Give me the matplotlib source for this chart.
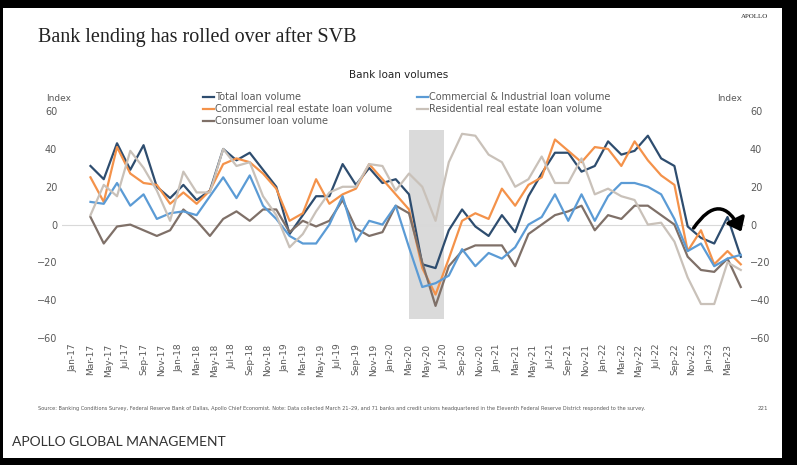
import matplotlib.pyplot as plt
from matplotlib.patches import Rectangle, FancyArrowPatch

# Survey dates: every 1.5 months starting Mar-17 (months since Jan-17)
n_points = 50
months = [2 + 1.5 * i for i in range(n_points)]

total = [31, 24, 43, 29, 42, 20, 14, 21, 13, 18, 40, 34, 38, 29, 20, -5, 5, 15, 15, 32,
         21, 30, 22, 24, 16, -21, -23, -3, 8, -1, -6, 5, -4, 15, 27, 38, 38, 28, 31, 44,
         37, 39, 47, 35, 31, -1, -7, -10, 4, -17]
cre = [25, 12, 41, 27, 22, 21, 11, 17, 11, 18, 32, 35, 33, 27, 19, 2, 6, 24, 11, 16,
       19, 32, 24, 16, 8, -23, -37, -18, 2, 6, 3, 19, 10, 21, 25, 45, 39, 33, 41, 40,
       31, 44, 34, 26, 21, -14, -3, -21, -14, -21]
ci = [12, 11, 22, 10, 16, 3, 6, 7, 5, 15, 25, 14, 26, 10, 3, -6, -10, -10, 0, 15,
      -9, 2, 0, 10, -12, -33, -31, -27, -13, -22, -15, -18, -12, 0, 4, 16, 2, 16, 2, 15,
      22, 22, 20, 16, 3, -14, -10, -22, -18, -16]
residential = [5, 21, 15, 39, 30, 18, 2, 28, 17, 17, 40, 31, 33, 15, 5, -12, -5, 7, 17, 20,
               20, 32, 31, 18, 27, 20, 2, 33, 48, 47, 37, 33, 20, 24, 36, 22, 22, 35, 16, 19,
               15, 13, 0, 1, -9, -28, -42, -42, -20, -24]
consumer = [4, -10, -1, 0, -3, -6, -3, 8, 2, -6, 3, 7, 2, 8, 8, -4, 2, -1, 2, 13,
            -2, -6, -4, 10, 6, -20, -43, -22, -14, -11, -11, -11, -22, -5, 0, 5, 7, 10, -3, 5,
            3, 10, 10, 5, 0, -17, -24, -25, -18, -33]

tick_months = list(range(0, 75, 2))
names = ["Jan", "Feb", "Mar", "Apr", "May", "Jun", "Jul", "Aug", "Sep", "Oct", "Nov", "Dec"]
tick_labels = [f"{names[m % 12]}-{17 + m // 12}" for m in tick_months]

grey = "#595959"
fig = plt.figure(figsize=(7.97, 4.65), dpi=100, facecolor="black")
fig.patches.append(Rectangle((3 / 797, 1 - 458 / 465), 779 / 797, 450 / 465,
                             transform=fig.transFigure, facecolor="white", edgecolor="none", zorder=-10))

ax = fig.add_axes([0.078, 0.273, 0.857, 0.488])
ax.set_facecolor("none")
ax.add_patch(Rectangle((38, -50), 4, 100, facecolor="#DADADA", edgecolor="none", zorder=0))
ax.axhline(0, color="#D9D9D9", lw=0.8, zorder=1)

ax.plot(months, total, color="#2E4D6F", lw=1.6, label="Total loan volume")
ax.plot(months, cre, color="#F4924A", lw=1.6, label="Commercial real estate loan volume")
ax.plot(months, consumer, color="#7F7068", lw=1.6, label="Consumer loan volume")
ax.plot(months, ci, color="#5B9BD5", lw=1.6, label="Commercial & Industrial loan volume")
ax.plot(months, residential, color="#C9C1B9", lw=1.6, label="Residential real estate loan volume")

ax.add_patch(FancyArrowPatch((70, -3), (75.7, -5), connectionstyle="arc3,rad=-0.9",
                             arrowstyle="-|>,head_length=5,head_width=4", lw=2.5, color="black",
                             mutation_scale=1.5, zorder=5))

ax.set_xlim(-1.2, 76)
ax.set_ylim(-60, 60)
ax.set_yticks(range(-60, 61, 20))
ax.set_xticks(tick_months)
ax.set_xticklabels(tick_labels, rotation=90, fontsize=6.5, color=grey)
ax.tick_params(axis="y", labelsize=7, colors=grey, length=0)
ax.tick_params(axis="x", length=0, pad=4)
for s in ax.spines.values():
    s.set_visible(False)

ax2 = ax.twinx()
ax2.set_ylim(-60, 60)
ax2.set_yticks(range(-60, 61, 20))
ax2.tick_params(axis="y", labelsize=7, colors=grey, length=0)
for s in ax2.spines.values():
    s.set_visible(False)

fig.text(0.058, 1 - 101 / 465, "Index", fontsize=6.5, color=grey)
fig.text(0.9, 1 - 101 / 465, "Index", fontsize=6.5, color=grey)
ax.legend(ncol=2, loc="upper left", bbox_to_anchor=(0.2, 1.1), frameon=False, fontsize=7,
          labelcolor=grey, handlelength=1.2, handletextpad=0.1, columnspacing=2.5,
          labelspacing=0.2, borderaxespad=0)

fig.text(0.5, 1 - 78 / 465, "Bank loan volumes", fontsize=7.5, ha="center", color="#222222")
fig.text(38 / 797, 1 - 42 / 465, "Bank lending has rolled over after SVB",
         family="Liberation Serif", fontsize=14.5, color="#222222")
fig.text(768 / 797, 1 - 18 / 465, "APOLLO", family="Liberation Serif", fontsize=5,
         ha="right", color="#222222")
fig.text(38 / 797, 1 - 410 / 465,
         "Source: Banking Conditions Survey, Federal Reserve Bank of Dallas, Apollo Chief Economist. "
         "Note: Data collected March 21\u201329, and 71 banks and credit unions headquartered in the "
         "Eleventh Federal Reserve District responded to the survey.", fontsize=3.6, color=grey)
fig.text(768 / 797, 1 - 410 / 465, "221", fontsize=4, ha="right", color=grey)
fig.text(12 / 797, 1 - 446 / 465, "APOLLO GLOBAL MANAGEMENT", family="Lato", fontsize=10,
         color="#333333")

fig.savefig("out.png", dpi=100, facecolor=fig.get_facecolor())
